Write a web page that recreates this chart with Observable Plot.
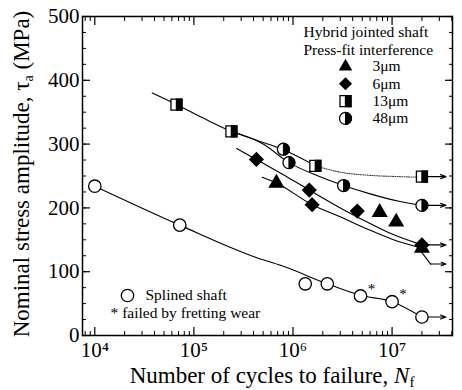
<!DOCTYPE html>
<html><head><meta charset="utf-8">
<script src="https://cdn.jsdelivr.net/npm/d3@7"></script>
<script src="https://cdn.jsdelivr.net/npm/@observablehq/plot@0.6"></script>
<style>
body{margin:0;background:#fff;}
svg, svg text, svg tspan{font-family:"Liberation Serif","DejaVu Serif",serif;}
</style></head><body><div id="chart"></div>
<script>
// ---------- data ----------
const majorX = [1e4, 1e5, 1e6, 1e7];
const xTickLabels = ["10⁴", "10⁵", "10⁶", "10⁷"];
const yTicks = [0, 100, 200, 300, 400, 500];

// Splined shaft (open circles)
const splinedN = [1e4, 7.2e4, 1.33e6, 2.22e6, 4.8e6, 1.0e7, 2.0e7];
const splinedTau = [234, 173, 81, 81, 62, 53, 29];
const splinedFretting = [0, 0, 0, 0, 1, 1, 0];
// Hybrid 3 µm (triangles)
const tri3N = [6.8e5, 7.5e6, 1.1e7, 2.0e7];
const tri3Tau = [239, 193, 178, 137];
// Hybrid 6 µm (diamonds)
const dia6N = [4.27e5, 1.46e6, 1.56e6, 4.45e6, 2.0e7];
const dia6Tau = [276, 228, 205, 195, 142];
// Hybrid 13 µm (half-filled squares)
const sq13N = [6.67e4, 2.39e5, 1.68e6, 2.0e7];
const sq13Tau = [362, 320, 266, 249];
// Hybrid 48 µm (half-filled circles)
const hc48N = [8.0e5, 9.1e5, 3.24e6, 2.0e7];
const hc48Tau = [292, 271, 235, 204];

// fitted S-N curves
const fitSplinedN = [1e4, 7.2e4, 4.7e5, 7.5e5, 2.22e6, 4.8e6, 1.0e7, 2.0e7];
const fitSplinedTau = [234, 173, 120, 110, 81, 63, 53, 29];
const fit13N = [3.8e4, 6.67e4, 1.2e5, 2.39e5, 4.5e5, 8.0e5, 1.68e6];
const fit13Tau = [380, 362, 342, 320, 305, 291, 266];
const fit13TailN = [1.68e6, 3e6, 6e6, 1.2e7, 2.0e7];
const fit13TailTau = [266, 256, 251, 249, 248];
const fit48N = [2.39e5, 5e5, 9.1e5, 1.8e6, 3.24e6, 6e6, 1.2e7, 2.0e7];
const fit48Tau = [320, 300, 271, 250, 235, 222, 210, 204];
const fit6N = [2.7e5, 4.27e5, 8e5, 1.46e6, 3e6, 5.6e6, 1e7, 2e7];
const fit6Tau = [293, 276, 252, 228, 200, 178, 159, 142];
const fit3N = [4.9e5, 6.8e5, 1.56e6, 3e6, 5.6e6, 1e7, 2e7];
const fit3Tau = [248, 239, 205, 186, 167, 151, 137];

// run-out arrows (did not fail)
const runoutN = [2.0e7, 2.0e7, 2.0e7, 2.0e7];
const runoutTau = [249, 204, 142, 29];
const runoutEndN = 3.5e7;
const bentRunoutN = [2.0e7, 2.45e7];
const bentRunoutTau = [130, 112];

const legendTitle = ["Hybrid jointed shaft", "Press-fit interference"];
const legendLabels = ["3μm", "6μm", "13μm", "48μm"];
const splinedLegend = ["Splined shaft", "* failed by fretting wear"];

// ---------- helpers ----------
const FONT = '"Liberation Serif", "DejaVu Serif", serif';
const rows = (N, T) => N.map((n, i) => ({N: n, tau: T[i], i}));
const splined = rows(splinedN, splinedTau);
const tri3 = rows(tri3N, tri3Tau);
const dia6 = rows(dia6N, dia6Tau);
const sq13 = rows(sq13N, sq13Tau);
const hc48 = rows(hc48N, hc48Tau);
const runouts = rows(runoutN, runoutTau);
const bent = rows(bentRunoutN, bentRunoutTau);

const minorX = [];
for (let e = 3; e <= 7; e++) for (let m = 2; m <= 9; m++) minorX.push(m * 10 ** e);
const xDomain = [7516, 4.07e7];
const minorXIn = minorX.filter(v => v > xDomain[0] && v < xDomain[1]);
const minorY = d3.range(0, 501, 25);

const halfSquareRight = {draw(ctx, size) {const s = Math.sqrt(size) / 2; ctx.moveTo(0, -s); ctx.lineTo(s, -s); ctx.lineTo(s, s); ctx.lineTo(0, s); ctx.closePath();}};
const halfCircleRight = {draw(ctx, size) {const r = Math.sqrt(size / Math.PI); ctx.moveTo(0, -r); ctx.arc(0, 0, r, -Math.PI / 2, Math.PI / 2); ctx.closePath();}};

const lineOpts = {x: "N", y: "tau", stroke: "black", strokeWidth: 1.1, curve: "monotone-x"};
const blank = () => "";
const XY = {x: "N", y: "tau"};

function squareMarks(data, pos) {
  return [
    Plot.dot(data, {...pos, symbol: "square", r: 6.2, fill: "white", stroke: "black", strokeWidth: 1.3}),
    Plot.dot(data, {...pos, symbol: halfSquareRight, r: 6.2, fill: "black", stroke: "black", strokeWidth: 1.3})
  ];
}
function halfCircleMarks(data, pos) {
  return [
    Plot.dot(data, {...pos, symbol: "circle", r: 6, fill: "white", stroke: "black", strokeWidth: 1.3}),
    Plot.dot(data, {...pos, symbol: halfCircleRight, r: 6, fill: "black", stroke: "black", strokeWidth: 1})
  ];
}

const LS = 17.3; // legend row step
const legendAt = (row) => ({frameAnchor: "top-left", dx: 263, dy: 50 + row * LS});
const one = [0];
const txt = {textAnchor: "start", lineAnchor: "middle", fontSize: 15.5, fontFamily: FONT};

const chart = Plot.plot({
  width: 462, height: 390,
  marginLeft: 82, marginRight: 10, marginTop: 16, marginBottom: 55,
  style: {fontFamily: FONT, background: "white", color: "black"},
  x: {type: "log", domain: xDomain},
  y: {domain: [0, 500]},
  marks: [
    // axes (ticks inward on all four sides)
    Plot.axisX(majorX, {anchor: "bottom", tickSize: -8, tickPadding: 15, tickFormat: d => xTickLabels[majorX.indexOf(d)], fontSize: 21, fontFamily: FONT, label: null, strokeWidth: 1.2}),
    Plot.axisX(minorXIn, {anchor: "bottom", tickSize: -4, tickFormat: blank, label: null}),
    Plot.axisX(majorX, {anchor: "top", tickSize: -8, tickFormat: blank, label: null, strokeWidth: 1.2}),
    Plot.axisX(minorXIn, {anchor: "top", tickSize: -4, tickFormat: blank, label: null}),
    Plot.axisY(yTicks, {anchor: "left", tickSize: -8, tickPadding: 11, fontSize: 21, fontFamily: FONT, label: null, strokeWidth: 1.2}),
    Plot.axisY(minorY, {anchor: "left", tickSize: -4, tickFormat: blank, label: null}),
    Plot.axisY(yTicks, {anchor: "right", tickSize: -8, tickFormat: blank, label: null, strokeWidth: 1.2}),
    Plot.axisY(minorY, {anchor: "right", tickSize: -4, tickFormat: blank, label: null}),
    Plot.frame({stroke: "black", strokeWidth: 1.5}),

    // fitted curves
    Plot.line(rows(fitSplinedN, fitSplinedTau), lineOpts),
    Plot.line(rows(fit13N, fit13Tau), lineOpts),
    Plot.line(rows(fit13TailN, fit13TailTau), {...lineOpts, stroke: "#444", strokeDasharray: "1,1.3"}),
    Plot.line(rows(fit48N, fit48Tau), lineOpts),
    Plot.line(rows(fit6N, fit6Tau), lineOpts),
    Plot.line(rows(fit3N, fit3Tau), lineOpts),

    // run-out arrows
    Plot.arrow(runouts, {x1: "N", y1: "tau", x2: () => runoutEndN, y2: "tau", stroke: "black", strokeWidth: 1.1, headLength: 8, headAngle: 40, insetStart: 6}),
    Plot.line(bent, {x: "N", y: "tau", stroke: "black", strokeWidth: 1.1}),
    Plot.arrow(bent.slice(1), {x1: "N", y1: "tau", x2: () => runoutEndN, y2: "tau", stroke: "black", strokeWidth: 1.1, headLength: 8, headAngle: 40}),

    // data points
    Plot.dot(splined, {...XY, symbol: "circle", r: 6.2, fill: "white", stroke: "black", strokeWidth: 1.3}),
    Plot.text(splined.filter(d => splinedFretting[d.i]), {...XY, text: () => "*", dx: 11, dy: -7, fontSize: 15, fontFamily: FONT, fill: "black"}),
    ...squareMarks(sq13, XY),
    ...halfCircleMarks(hc48, XY),
    Plot.dot(dia6, {...XY, symbol: "diamond2", r: 5.9, fill: "black", stroke: "black"}),
    Plot.dot(tri3, {...XY, symbol: "triangle", r: 5, fill: "black", stroke: "black"}),

    // legend (upper right)
    ...legendTitle.map((t, k) => Plot.text([t], {...txt, frameAnchor: "top-left", dx: 221, dy: 16 + k * LS})),
    Plot.dot(one, {...legendAt(0), symbol: "triangle", r: 5, fill: "black"}),
    Plot.dot(one, {...legendAt(1), symbol: "diamond2", r: 5.9, fill: "black"}),
    ...squareMarks(one, legendAt(2)),
    ...halfCircleMarks(one, legendAt(3)),
    ...legendLabels.map((t, k) => Plot.text([t], {...txt, frameAnchor: "top-left", dx: 290, dy: 50 + k * LS})),

    // legend (lower left)
    Plot.dot(one, {frameAnchor: "bottom-left", dx: 45, dy: -40, symbol: "circle", r: 6.2, fill: "white", stroke: "black", strokeWidth: 1.3}),
    Plot.text([splinedLegend[0]], {...txt, frameAnchor: "bottom-left", dx: 63, dy: -40}),
    Plot.text([splinedLegend[1]], {...txt, frameAnchor: "bottom-left", dx: 28, dy: -22})
  ]
});

// axis titles with italic / subscript parts
const s = d3.select(chart);
s.style("font-family", FONT);
const xt = s.append("text").attr("x", 272).attr("y", 383).attr("text-anchor", "middle")
  .attr("font-size", 23).attr("font-family", FONT).attr("fill", "black");
xt.append("tspan").text("Number of cycles to failure, ");
xt.append("tspan").attr("font-style", "italic").text("N");
xt.append("tspan").attr("font-size", 15).attr("dy", 4).text("f");

const yt = s.append("text").attr("transform", "translate(29,174) rotate(-90)").attr("text-anchor", "middle")
  .attr("font-size", 23).attr("font-family", FONT).attr("fill", "black");
yt.append("tspan").text("Nominal stress amplitude, τ");
yt.append("tspan").attr("font-size", 14).attr("dy", 4).text("a");
yt.append("tspan").attr("dy", -4).text(" (MPa)");

document.getElementById("chart").appendChild(chart);
</script>
</body></html>
